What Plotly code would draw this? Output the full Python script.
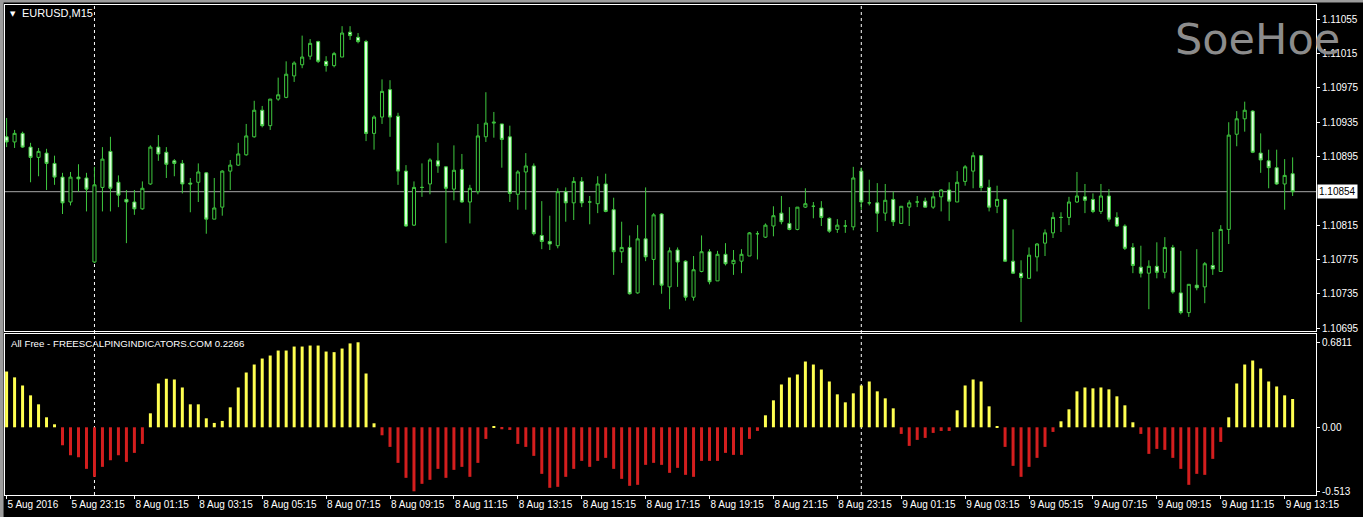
import plotly.graph_objects as go

# ---------------- data ----------------
bar_index = list(range(162))

open_price = [
1.10918, 1.10912, 1.10922, 1.10906, 1.10894, 1.10899, 1.10887, 1.10871, 1.10842, 1.10871,
1.10870, 1.10772, 1.10859, 1.10901, 1.10865, 1.10845, 1.10842, 1.10834, 1.10863, 1.10906,
1.10900, 1.10890, 1.10887, 1.10864, 1.10865, 1.10876, 1.10822, 1.10836, 1.10878, 1.10885,
1.10897, 1.10918, 1.10949, 1.10931, 1.10962, 1.10964, 1.10989, 1.11002, 1.11012, 1.11029,
1.11006, 1.11001, 1.11011, 1.11040, 1.11034, 1.11029, 1.10922, 1.10941, 1.10973, 1.10942,
1.10878, 1.10815, 1.10859, 1.10863, 1.10890, 1.10883, 1.10857, 1.10880, 1.10842, 1.10854,
1.10918, 1.10934, 1.10933, 1.10918, 1.10851, 1.10877, 1.10884, 1.10803, 1.10796, 1.10791,
1.10854, 1.10841, 1.10866, 1.10842, 1.10840, 1.10863, 1.10833, 1.10784, 1.10789, 1.10736,
1.10799, 1.10775, 1.10828, 1.10743, 1.10786, 1.10773, 1.10731, 1.10761, 1.10784, 1.10750,
1.10781, 1.10770, 1.10773, 1.10779, 1.10805, 1.10801, 1.10814, 1.10829, 1.10817, 1.10810,
1.10836, 1.10837, 1.10835, 1.10823, 1.10810, 1.10814, 1.10813, 1.10878, 1.10841, 1.10841,
1.10829, 1.10845, 1.10817, 1.10836, 1.10842, 1.10843, 1.10836, 1.10848, 1.10856, 1.10842,
1.10866, 1.10878, 1.10896, 1.10859, 1.10837, 1.10845, 1.10773, 1.10759, 1.10753, 1.10778,
1.10794, 1.10806, 1.10824, 1.10824, 1.10842, 1.10848, 1.10845, 1.10831, 1.10849, 1.10824,
1.10814, 1.10789, 1.10766, 1.10759, 1.10767, 1.10760, 1.10789, 1.10736, 1.10713, 1.10745,
1.10743, 1.10768, 1.10761, 1.10810, 1.10921, 1.10939, 1.10948, 1.10899, 1.10890, 1.10882,
1.10863, 1.10875]

high_price = [
1.10940, 1.10926, 1.10924, 1.10911, 1.10905, 1.10904, 1.10896, 1.10876, 1.10877, 1.10886,
1.10876, 1.10883, 1.10906, 1.10918, 1.10873, 1.10856, 1.10856, 1.10866, 1.10908, 1.10920,
1.10906, 1.10892, 1.10891, 1.10870, 1.10887, 1.10877, 1.10870, 1.10879, 1.10891, 1.10911,
1.10933, 1.10960, 1.10954, 1.10962, 1.10987, 1.11006, 1.11006, 1.11036, 1.11032, 1.11030,
1.11012, 1.11017, 1.11047, 1.11047, 1.11039, 1.11031, 1.10943, 1.10985, 1.10984, 1.10946,
1.10885, 1.10866, 1.10887, 1.10893, 1.10911, 1.10884, 1.10908, 1.10898, 1.10862, 1.10933,
1.10970, 1.10947, 1.10933, 1.10931, 1.10879, 1.10899, 1.10887, 1.10843, 1.10826, 1.10858,
1.10859, 1.10871, 1.10871, 1.10849, 1.10872, 1.10875, 1.10847, 1.10819, 1.10803, 1.10815,
1.10859, 1.10829, 1.10829, 1.10789, 1.10789, 1.10774, 1.10779, 1.10803, 1.10787, 1.10785,
1.10794, 1.10786, 1.10787, 1.10807, 1.10808, 1.10817, 1.10837, 1.10849, 1.10836, 1.10836,
1.10858, 1.10842, 1.10843, 1.10824, 1.10822, 1.10821, 1.10883, 1.10882, 1.10868, 1.10864,
1.10863, 1.10854, 1.10837, 1.10844, 1.10849, 1.10847, 1.10855, 1.10857, 1.10865, 1.10878,
1.10885, 1.10900, 1.10896, 1.10868, 1.10861, 1.10845, 1.10810, 1.10774, 1.10789, 1.10794,
1.10810, 1.10830, 1.10830, 1.10848, 1.10877, 1.10863, 1.10852, 1.10863, 1.10857, 1.10830,
1.10816, 1.10794, 1.10791, 1.10774, 1.10795, 1.10801, 1.10792, 1.10785, 1.10746, 1.10787,
1.10772, 1.10807, 1.10815, 1.10935, 1.10948, 1.10959, 1.10949, 1.10922, 1.10903, 1.10903,
1.10892, 1.10894]

low_price = [
1.10906, 1.10905, 1.10905, 1.10865, 1.10872, 1.10856, 1.10862, 1.10828, 1.10838, 1.10854,
1.10831, 1.10771, 1.10831, 1.10831, 1.10836, 1.10794, 1.10827, 1.10833, 1.10862, 1.10890,
1.10870, 1.10872, 1.10852, 1.10830, 1.10842, 1.10805, 1.10822, 1.10826, 1.10856, 1.10884,
1.10896, 1.10917, 1.10929, 1.10926, 1.10960, 1.10963, 1.10982, 1.10998, 1.11008, 1.11004,
1.10994, 1.10999, 1.11011, 1.11031, 1.11027, 1.10913, 1.10903, 1.10933, 1.10918, 1.10862,
1.10813, 1.10814, 1.10848, 1.10851, 1.10876, 1.10794, 1.10844, 1.10841, 1.10817, 1.10851,
1.10912, 1.10917, 1.10882, 1.10842, 1.10833, 1.10833, 1.10803, 1.10787, 1.10786, 1.10788,
1.10819, 1.10821, 1.10836, 1.10816, 1.10829, 1.10830, 1.10757, 1.10771, 1.10734, 1.10735,
1.10773, 1.10745, 1.10735, 1.10717, 1.10743, 1.10727, 1.10727, 1.10760, 1.10746, 1.10750,
1.10768, 1.10757, 1.10759, 1.10779, 1.10775, 1.10800, 1.10802, 1.10816, 1.10809, 1.10809,
1.10835, 1.10823, 1.10814, 1.10806, 1.10806, 1.10806, 1.10809, 1.10833, 1.10838, 1.10807,
1.10820, 1.10814, 1.10817, 1.10814, 1.10836, 1.10836, 1.10834, 1.10831, 1.10820, 1.10842,
1.10861, 1.10858, 1.10855, 1.10831, 1.10829, 1.10772, 1.10758, 1.10702, 1.10753, 1.10761,
1.10779, 1.10800, 1.10807, 1.10815, 1.10841, 1.10829, 1.10829, 1.10828, 1.10819, 1.10813,
1.10786, 1.10759, 1.10754, 1.10717, 1.10753, 1.10753, 1.10735, 1.10711, 1.10708, 1.10739,
1.10724, 1.10757, 1.10761, 1.10793, 1.10907, 1.10924, 1.10899, 1.10876, 1.10858, 1.10862,
1.10833, 1.10849]

close_price = [
1.10912, 1.10922, 1.10906, 1.10894, 1.10901, 1.10887, 1.10871, 1.10841, 1.10871, 1.10869,
1.10857, 1.10862, 1.10892, 1.10858, 1.10850, 1.10842, 1.10834, 1.10858, 1.10906, 1.10898,
1.10886, 1.10887, 1.10863, 1.10863, 1.10877, 1.10822, 1.10835, 1.10878, 1.10885, 1.10898,
1.10919, 1.10949, 1.10931, 1.10962, 1.10967, 1.10991, 1.11004, 1.11011, 1.11027, 1.11006,
1.11001, 1.11015, 1.11039, 1.11036, 1.11029, 1.10922, 1.10941, 1.10971, 1.10941, 1.10878,
1.10814, 1.10859, 1.10859, 1.10891, 1.10884, 1.10858, 1.10879, 1.10842, 1.10858, 1.10919,
1.10934, 1.10935, 1.10915, 1.10852, 1.10877, 1.10884, 1.10805, 1.10796, 1.10793, 1.10854,
1.10841, 1.10866, 1.10841, 1.10842, 1.10863, 1.10831, 1.10784, 1.10789, 1.10735, 1.10799,
1.10778, 1.10827, 1.10745, 1.10785, 1.10772, 1.10731, 1.10763, 1.10784, 1.10749, 1.10781,
1.10770, 1.10774, 1.10781, 1.10806, 1.10805, 1.10815, 1.10826, 1.10819, 1.10810, 1.10836,
1.10840, 1.10837, 1.10824, 1.10808, 1.10815, 1.10814, 1.10870, 1.10842, 1.10841, 1.10829,
1.10844, 1.10819, 1.10837, 1.10841, 1.10842, 1.10836, 1.10848, 1.10856, 1.10843, 1.10865,
1.10883, 1.10896, 1.10859, 1.10836, 1.10845, 1.10773, 1.10759, 1.10754, 1.10780, 1.10793,
1.10806, 1.10824, 1.10824, 1.10842, 1.10849, 1.10844, 1.10831, 1.10849, 1.10822, 1.10814,
1.10788, 1.10768, 1.10759, 1.10767, 1.10760, 1.10789, 1.10737, 1.10713, 1.10746, 1.10742,
1.10770, 1.10764, 1.10810, 1.10920, 1.10939, 1.10949, 1.10900, 1.10891, 1.10882, 1.10863,
1.10873, 1.10854]

indicator_values = [
0.447, 0.400, 0.335, 0.256, 0.184, 0.080, 0.024, -0.144, -0.224, -0.240,
-0.333, -0.397, -0.317, -0.264, -0.224, -0.277, -0.205, -0.133, 0.112, 0.351,
0.389, 0.383, 0.319, 0.184, 0.184, 0.072, 0.035, 0.051, 0.160, 0.319,
0.439, 0.503, 0.551, 0.575, 0.615, 0.615, 0.647, 0.647, 0.655, 0.655,
0.607, 0.602, 0.631, 0.672, 0.6811, 0.431, 0.032, -0.064, -0.157, -0.285,
-0.405, -0.513, -0.453, -0.421, -0.333, -0.405, -0.341, -0.317, -0.397, -0.285,
-0.093, 0.005, -0.016, -0.021, -0.133, -0.157, -0.229, -0.373, -0.485, -0.477,
-0.397, -0.333, -0.269, -0.317, -0.269, -0.245, -0.333, -0.413, -0.469, -0.461,
-0.301, -0.285, -0.301, -0.365, -0.325, -0.381, -0.397, -0.269, -0.269, -0.269,
-0.205, -0.221, -0.221, -0.093, -0.029, 0.096, 0.216, 0.343, 0.399, 0.423,
0.527, 0.503, 0.463, 0.367, 0.264, 0.200, 0.272, 0.335, 0.367, 0.288,
0.232, 0.152, -0.053, -0.149, -0.101, -0.085, -0.045, -0.029, -0.029, 0.136,
0.335, 0.383, 0.367, 0.168, 0.005, -0.157, -0.309, -0.397, -0.317, -0.245,
-0.157, -0.037, 0.048, 0.144, 0.288, 0.319, 0.312, 0.319, 0.304, 0.248,
0.176, 0.040, -0.053, -0.213, -0.173, -0.181, -0.245, -0.333, -0.461, -0.373,
-0.381, -0.253, -0.117, 0.080, 0.351, 0.503, 0.535, 0.471, 0.367, 0.327,
0.256, 0.2266]

time_tick_index = [0, 8, 16, 24, 32, 40, 48, 56, 64, 72, 80, 88, 96, 104, 112, 120, 128, 136, 144, 152, 160]
time_tick_labels = ["5 Aug 2016", "5 Aug 23:15", "8 Aug 01:15", "8 Aug 03:15", "8 Aug 05:15",
                    "8 Aug 07:15", "8 Aug 09:15", "8 Aug 11:15", "8 Aug 13:15", "8 Aug 15:15",
                    "8 Aug 17:15", "8 Aug 19:15", "8 Aug 21:15", "8 Aug 23:15", "9 Aug 01:15",
                    "9 Aug 03:15", "9 Aug 05:15", "9 Aug 07:15", "9 Aug 09:15", "9 Aug 11:15",
                    "9 Aug 13:15"]

price_ticks = [1.10695, 1.10735, 1.10775, 1.10815, 1.10895, 1.10935, 1.10975, 1.11015, 1.11055]
price_tick_labels = ["1.10695", "1.10735", "1.10775", "1.10815", "1.10895", "1.10935", "1.10975", "1.11015", "1.11055"]
current_price = 1.10854
indicator_ticks = [0.6811, 0.0, -0.513]
indicator_tick_labels = ["0.6811", "0.00", "-0.513"]
day_separators = [11, 107]

# ---------------- style ----------------
FONT = "Liberation Sans"
GREEN = "#3FC83F"
BEAR_FILL = "#DCFFDC"
YELLOW = "#FFFF50"
RED = "#D41E1E"
WHITE = "#FFFFFF"

bar_colors = [YELLOW if v >= 0 else RED for v in indicator_values]

fig = go.Figure()
fig.add_trace(go.Candlestick(
    x=bar_index, open=open_price, high=high_price, low=low_price, close=close_price,
    xaxis="x", yaxis="y", whiskerwidth=0,
    increasing=dict(line=dict(color=GREEN, width=1), fillcolor="#000000"),
    decreasing=dict(line=dict(color=GREEN, width=1), fillcolor=BEAR_FILL),
    hoverinfo="skip", showlegend=False))
fig.add_trace(go.Bar(
    x=bar_index, y=indicator_values, xaxis="x2", yaxis="y2", width=0.375,
    marker=dict(color=bar_colors, line=dict(width=0)), hoverinfo="skip", showlegend=False))

xrange = [-0.2, 163.925]
axis_common = dict(showgrid=False, zeroline=False, showline=True, mirror=True,
                   linecolor=WHITE, linewidth=1, tickcolor=WHITE,
                   tickfont=dict(family=FONT, size=10, color=WHITE))

shapes = []
for s in day_separators:
    shapes.append(dict(type="line", xref="x", yref="paper", x0=s, x1=s, y0=0, y1=1,
                       line=dict(color=WHITE, width=1, dash="3px,3px"), layer="below"))
shapes.append(dict(type="line", xref="x domain", yref="y", x0=0, x1=1, y0=current_price, y1=current_price,
                   line=dict(color="#A8A8A8", width=1), layer="below"))
# window frame
shapes.append(dict(type="rect", xref="paper", yref="paper", x0=-0.01, x1=1.05, y0=1.0051, y1=1.02,
                   line=dict(width=0), fillcolor="#9C9C9C"))
shapes.append(dict(type="rect", xref="paper", yref="paper", x0=-0.01, x1=-0.0011, y0=-0.06, y1=1.02,
                   line=dict(width=0), fillcolor="#9C9C9C"))

annotations = [
    dict(xref="paper", yref="paper", x=0.0115, y=0.9837, xanchor="left", yanchor="middle",
         text="EURUSD,M15", showarrow=False, font=dict(family=FONT, size=11, color=WHITE)),
    dict(xref="paper", yref="paper", x=0.0061, y=0.9825, xanchor="center", yanchor="middle",
         text="▼", showarrow=False, font=dict(family="DejaVu Sans", size=7, color=WHITE)),
    dict(xref="paper", yref="paper", x=0.0030, y=0.3082, xanchor="left", yanchor="middle",
         text="All Free - FREESCALPINGINDICATORS.COM 0.2266", showarrow=False,
         font=dict(family=FONT, size=9.7, color=WHITE)),
    dict(xref="paper", yref="paper", x=0.955, y=0.9306, xanchor="center", yanchor="middle",
         text="SoeHoe", showarrow=False, font=dict(family="DejaVu Sans", size=43, color="#8C8C8C")),
    dict(xref="paper", yref="y", x=1.0009, y=current_price, xanchor="left", yanchor="middle",
         text="1.10854", showarrow=False, bgcolor=WHITE, borderpad=1,
         font=dict(family=FONT, size=10, color="#000000")),
]

fig.update_layout(
    width=1363, height=517,
    margin=dict(l=4, r=46, t=5, b=22),
    paper_bgcolor="#000000", plot_bgcolor="#000000",
    boxgap=0.45,
    showlegend=False,
    xaxis=dict(domain=[0, 1], anchor="y", range=xrange, showticklabels=False, ticks="",
               rangeslider=dict(visible=False), **axis_common),
    yaxis=dict(domain=[0.3337, 1], anchor="x", side="right", range=[1.10691, 1.110717],
               tickvals=price_ticks, ticktext=price_tick_labels, ticks="outside", ticklen=3,
               **axis_common),
    xaxis2=dict(domain=[0, 1], anchor="y2", range=xrange, tickvals=time_tick_index,
                ticktext=time_tick_labels, ticks="outside", ticklen=3,
                ticklabelposition="outside right", **axis_common),
    yaxis2=dict(domain=[0, 0.3286], anchor="x2", side="right", range=[-0.5425, 0.7476],
                tickvals=indicator_ticks, ticktext=indicator_tick_labels, ticks="outside", ticklen=3,
                **axis_common),
    shapes=shapes,
    annotations=annotations,
)

fig.write_html("out.html", config={"displayModeBar": False},
               post_script="document.body.style.margin='0px';document.body.style.background='#000000';")
